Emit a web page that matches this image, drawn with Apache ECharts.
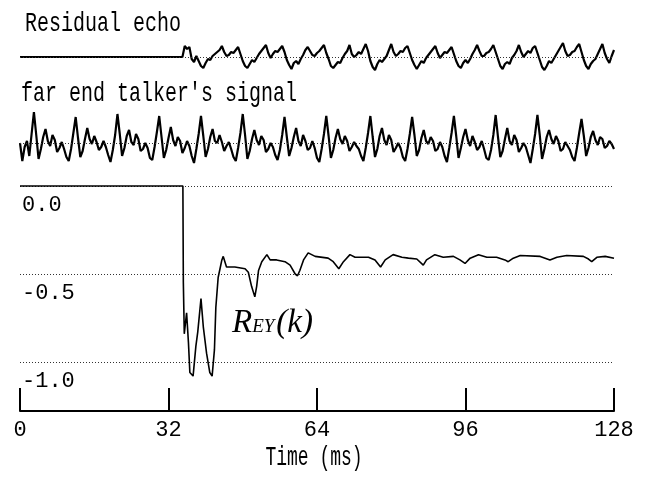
<!DOCTYPE html>
<html>
<head>
<meta charset="UTF-8">
<title>Residual echo</title>
<script src="https://cdn.jsdelivr.net/npm/echarts@6/dist/echarts.min.js"></script>
<style>
  html, body { margin: 0; padding: 0; background: #fff; }
  #chart { width: 653px; height: 488px; }
</style>
</head>
<body>
<div id="chart"></div>
<script>
// sample step of the two waveforms (ms)
const DT = 0.5;

// far end talker's signal, one sample every DT from 0 ms
const farEnd = [
  0, -18, -4, 2, -13, 9,
  31, 8, -16, -6, 6, 14, 2, -3, 8, 3, -9, -5, 1, -6, -14, -18, -6, 10,
  26, 5, -14, -8, 4, 15, 4, -1, 7, 1, -7, -4, 2, -4, -12, -19, -7, 8,
  29, 9, -13, -5, 7, 13, 1, -2, 9, 4, -8, -6, 0, -5, -15, -17, -4, 11,
  27, 6, -15, -7, 5, 16, 3, -3, 6, 2, -10, -5, 2, -3, -13, -20, -6, 9,
  27, 7, -14, -6, 6, 14, 2, 0, 8, 1, -8, -3, 1, -6, -14, -18, -5, 10,
  29, 8, -16, -8, 4, 13, 3, -2, 7, 3, -9, -6, 0, -4, -12, -17, -7, 8,
  26, 6, -13, -5, 6, 15, 2, -3, 8, 2, -7, -5, 2, -5, -15, -19, -6, 9,
  27, 7, -15, -7, 5, 14, 4, -1, 7, 2, -8, -4, 1, -3, -6, -13, -18, -5, 10,
  27, 6, -14, -6, 7, 15, 3, -2, 8, 3, -9, -5, 0, -5, -14, -18, -6, 9,
  26, 8, -13, -7, 5, 13, 2, -1, 6, 2, -8, -6, 1, -4, -13, -19, -5, 10,
  27, 7, -15, -5, 6, 14, 3, -3, 7, 1, -7, -4, 2, -6, -15, -17, -7, 8,
  28, 6, -14, -8, 4, 15, 2, -2, 8, 3, -9, -5, 0, -4, -12, -20, -6, 9,
  28, 8, -16, -6, 6, 13, 4, -1, 7, 2, -8, -6, 1, -3, -7, -14, -18, -5, 10,
  24, 7, -13, -5, 6, 12, 3, -2, 6, 4, -5, -3, 2, -1, -6
];

// residual echo: zero until the echo canceller starts, then one sample every DT
const residualStart = 35;
const residual = [
  0, 11, 8, 10, -2, -5, 1, -4, -9, -11, -6, -2, -3, 1, 3, 5, 7,
  11, 5, 1, 2, 5, 4, 7, 10, 3, -4, -9, -11, -7, -3, -5, -1, 3, 6, 9,
  12, 4, -1, 3, 6, 5, 8, 11, 5, -3, -8, -12, -6, -4, -7, -2, 2, 7,
  10, 6, 2, 1, 4, 6, 9, 12, 4, -2, -9, -11, -8, -5, -6, -1, 3, 6,
  12, 3, 0, 2, 5, 3, 8, 13, 6, -4, -10, -13, -7, -3, -5, -2, 1, 7,
  13, 5, 1, 3, 6, 5, 9, 11, 4, -3, -8, -12, -8, -4, -6, -1, 2, 5, 8,
  11, 4, -1, 2, 5, 4, 7, 10, 3, -4, -9, -11, -6, -3, -6, -2, 3, 7,
  12, 6, 1, 1, 4, 5, 8, 12, 5, -2, -9, -12, -7, -5, -7, -1, 2, 6,
  12, 5, 0, 3, 6, 4, 9, 11, 4, -3, -10, -13, -9, -4, -6, -2, 2, 6, 10,
  14, 6, 1, 2, 5, 6, 10, 13, 5, -3, -9, -12, -7, -4, -2, 3, 8,
  13, 4, -2, -6, 1, 7
];

// R_EY(k)
const reyTime = [
  0, 35.1, 35.2, 35.4, 35.9, 36.3, 36.6, 37.3, 37.9, 38.3, 39.0, 39.5, 40.2, 40.9,
  41.4, 41.9, 42.2, 42.7, 43.1, 43.5, 43.8, 44.5, 46.3, 48.5, 49.2, 49.9, 50.6, 51.0,
  51.4, 52.1, 53.2, 53.9, 55.3, 57.1, 58.2, 59.3, 59.8, 60.3, 61.1, 62.1, 63.6, 66.4,
  67.5, 68.7, 69.7, 71.1, 72.2, 75.1, 76.5, 77.7, 78.7, 80.4, 82.3, 83.7, 85.5, 86.9,
  87.6, 89.4, 91.2, 93.4, 94.8, 95.9, 97.0, 98.8, 100.6, 102.7, 104.5, 105.2, 106.3,
  107.8, 112.1, 114.2, 114.6, 115.7, 117.8, 121.4, 122.5, 123.2, 124.3, 126.1, 128
];
const reyValue = [
  0, 0, -0.55, -0.84, -0.72, -0.89, -1.06, -1.08, -0.91, -0.83, -0.64, -0.80, -0.95, -1.06,
  -1.08, -0.93, -0.69, -0.52, -0.47, -0.42, -0.40, -0.46, -0.46, -0.47, -0.49, -0.57, -0.63, -0.57,
  -0.48, -0.43, -0.39, -0.42, -0.42, -0.43, -0.45, -0.50, -0.51, -0.48, -0.42, -0.38, -0.40, -0.41,
  -0.43, -0.47, -0.43, -0.39, -0.405, -0.405, -0.42, -0.46, -0.42, -0.39, -0.405, -0.41, -0.415, -0.45,
  -0.42, -0.39, -0.405, -0.40, -0.42, -0.44, -0.41, -0.39, -0.405, -0.405, -0.42, -0.43, -0.41,
  -0.395, -0.40, -0.42, -0.43, -0.405, -0.395, -0.40, -0.415, -0.43, -0.405, -0.40, -0.41
];

const TIME_MAX = 128;
const TIME_STEP = 32;

const FONT = "'Liberation Mono', 'DejaVu Sans Mono', monospace";

const farEndData = farEnd.map((v, i) => [i * DT, v]);
const residualData = [[0, 0]].concat(residual.map((v, i) => [residualStart + i * DT, v]));
const reyData = reyTime.map((t, i) => [t, reyValue[i]]);

const chart = echarts.init(document.getElementById('chart'));

const hiddenX = (idx) => ({
  type: 'value', gridIndex: idx, min: 0, max: TIME_MAX, show: false
});

const baseline = {
  silent: true,
  symbol: 'none',
  label: { show: false },
  lineStyle: { color: '#333', type: [1, 2], width: 1 },
  data: [{ yAxis: 0 }]
};

// the captions use a tall, narrow type: stretch the text upward
const caption = (text, x, y, size, align, sy) => ({
  type: 'text', x: x, y: y, scaleY: sy,
  style: {
    text: text, fontFamily: FONT, fontSize: size, fill: '#000',
    verticalAlign: 'top', align: align
  }
});

chart.setOption({
  animation: false,
  grid: [
    { left: 20, right: 39, top: 37, height: 40 },
    { left: 20, right: 39, top: 108, height: 65 },
    { left: 20, right: 39, top: 186, height: 176 },
    { left: 20, right: 39, top: 388, height: 23 }
  ],
  xAxis: [
    hiddenX(0),
    hiddenX(1),
    hiddenX(2),
    {
      type: 'value', gridIndex: 3, min: 0, max: TIME_MAX, interval: TIME_STEP,
      axisLine: { lineStyle: { color: '#000', width: 2 } },
      axisTick: { inside: true, length: 23, lineStyle: { color: '#000', width: 2 } },
      axisLabel: { margin: 8, fontFamily: FONT, fontSize: 22, color: '#000' },
      splitLine: { show: false }
    }
  ],
  yAxis: [
    { type: 'value', gridIndex: 0, min: -20, max: 20, show: false },
    { type: 'value', gridIndex: 1, min: -30, max: 35, show: false },
    {
      type: 'value', gridIndex: 2, min: -1, max: 0, interval: 0.5,
      axisLine: { show: false },
      axisTick: { show: false },
      axisLabel: {
        inside: true, margin: 2, verticalAlign: 'top', padding: [8, 0, 0, 0],
        fontFamily: FONT, fontSize: 22, color: '#000',
        formatter: (v) => v.toFixed(1)
      },
      splitLine: { lineStyle: { color: '#333', type: [1, 2], width: 1 } }
    },
    { type: 'value', gridIndex: 3, min: 0, max: 1, show: false }
  ],
  graphic: [
    caption('Residual echo', 25, 10, 20, 'left', 1.35),
    caption("far end talker's signal", 21, 80, 20, 'left', 1.35),
    caption('Time (ms)', 314, 444, 18, 'center', 1.5),
    {
      type: 'text', left: 232, top: 307,
      style: {
        text: '{r|R}{s|EY}{r|(k)}',
        rich: {
          r: { fontFamily: 'Liberation Serif', fontStyle: 'italic', fontSize: 33, lineHeight: 36, fill: '#000' },
          s: { fontFamily: 'Liberation Serif', fontStyle: 'italic', fontSize: 19, lineHeight: 16,
               verticalAlign: 'bottom', padding: [0, 2, 5, 0], fill: '#000' }
        }
      }
    }
  ],
  series: [
    {
      type: 'line', xAxisIndex: 0, yAxisIndex: 0, data: residualData,
      showSymbol: false, lineStyle: { color: '#000', width: 2.2 },
      markLine: baseline, z: 3
    },
    {
      type: 'line', xAxisIndex: 1, yAxisIndex: 1, data: farEndData,
      showSymbol: false, lineStyle: { color: '#000', width: 2.2 },
      markLine: baseline, z: 3
    },
    {
      type: 'line', xAxisIndex: 2, yAxisIndex: 2, data: reyData, clip: false,
      showSymbol: false, lineStyle: { color: '#000', width: 1.6 }, z: 3
    }
  ]
});
</script>
</body>
</html>
